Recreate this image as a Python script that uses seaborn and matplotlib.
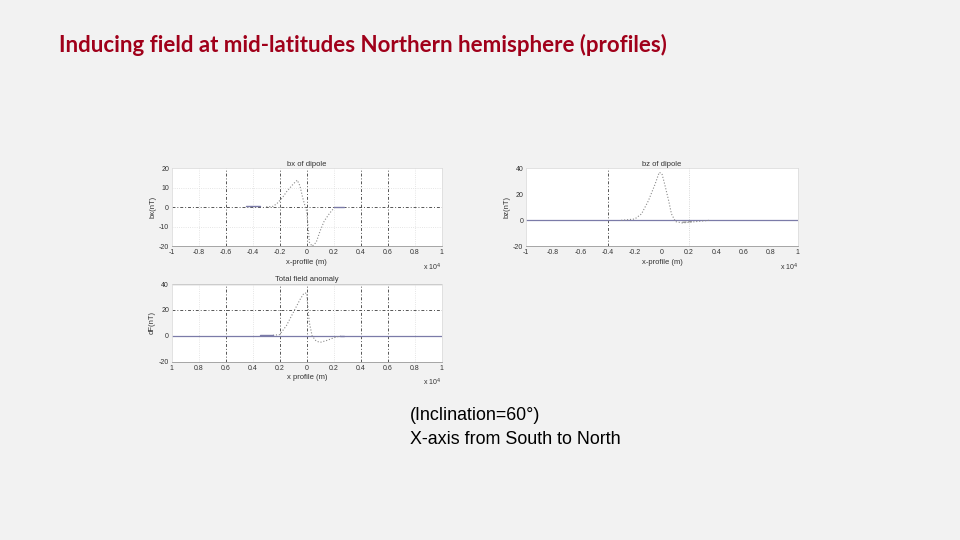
import matplotlib
matplotlib.use("Agg")
import matplotlib.pyplot as plt
import seaborn as sns
import numpy as np

sns.set_style("white")
plt.rcParams['font.family'] = ['Liberation Sans', 'DejaVu Sans']

# bx of dipole (x in units of 1e4 m)
bx_x = [-0.30, -0.25, -0.22, -0.18, -0.15, -0.10, -0.07, -0.05, -0.03, -0.01, 0.00, 0.01, 0.02, 0.04, 0.07, 0.10, 0.13, 0.17, 0.20]
bx_y = [0.3, 0.5, 2.0, 5.0, 8.0, 12.0, 14.0, 11.0, 5.0, 0.0, -2.0, -10.0, -18.0, -20.0, -18.0, -12.0, -7.0, -3.0, -0.5]
bx_flat_x = [-0.45, -0.35]
bx_flat_y = [0.5, 0.5]
bx_flat2_x = [0.20, 0.28]
bx_flat2_y = [0.0, 0.0]

# bz of dipole
bz_x = [-0.30, -0.20, -0.15, -0.10, -0.05, -0.02, 0.00, 0.02, 0.05, 0.07, 0.10, 0.15, 0.20, 0.30, 0.35]
bz_y = [0.0, 1.0, 5.0, 15.0, 28.0, 37.0, 36.0, 28.0, 15.0, 5.0, -1.0, -2.0, -1.5, -0.5, 0.0]
bz_flat_x = [0.15, 0.22]
bz_flat_y = [-1.5, -1.0]

# total field anomaly
dt_x = [-0.25, -0.20, -0.15, -0.10, -0.05, -0.02, 0.00, 0.01, 0.02, 0.04, 0.07, 0.10, 0.15, 0.20, 0.25]
dt_y = [0.5, 1.0, 8.0, 18.0, 28.0, 33.0, 33.0, 20.0, 10.0, 0.0, -4.0, -5.0, -3.5, -1.5, 0.0]
dt_flat_x = [-0.35, -0.25]
dt_flat_y = [0.5, 0.5]
dt_flat2_x = [0.25, 0.28]
dt_flat2_y = [0.0, 0.0]

xticks = [-1, -0.8, -0.6, -0.4, -0.2, 0, 0.2, 0.4, 0.6, 0.8, 1]
xlabels_signed = ['-1', '-0.8', '-0.6', '-0.4', '-0.2', '0', '0.2', '0.4', '0.6', '0.8', '1']
xlabels_plain = ['1', '0.8', '0.6', '0.4', '0.2', '0', '0.2', '0.4', '0.6', '0.8', '1']

bg = '#f2f2f2'
curve_col = '#8a8a8a'
blue = '#7b7ba8'
grid_col = '#555555'

fig = plt.figure(figsize=(9.6, 5.4), dpi=100)
fig.patch.set_facecolor(bg)

ax1 = fig.add_axes([0.179, 0.544, 0.281, 0.144])
ax2 = fig.add_axes([0.548, 0.544, 0.283, 0.144])
ax3 = fig.add_axes([0.179, 0.330, 0.281, 0.144])


def style_axes(ax, title, ylabel, yticks, xlabels, xlab):
    ax.set_facecolor('white')
    ax.set_xlim(-1, 1)
    ax.set_ylim(yticks[0], yticks[-1])
    ax.set_xticks(xticks)
    ax.set_xticklabels(xlabels)
    ax.set_yticks(yticks)
    ax.set_yticklabels([str(v) for v in yticks])
    ax.tick_params(labelsize=5, length=0, pad=2, colors='#333333')
    for s in ax.spines.values():
        s.set_color('#dddddd')
        s.set_linewidth(0.6)
    ax.spines['bottom'].set_color('#999999')
    ax.set_title(title, fontsize=5.5, pad=2, color='#333333')
    ax.set_ylabel(ylabel, fontsize=5.5, labelpad=2, color='#333333')
    ax.set_xlabel(xlab, fontsize=5.5, labelpad=2, color='#333333')
    ax.text(1.0, -0.27, r'x 10$^4$', transform=ax.transAxes, fontsize=5,
            ha='right', va='center', color='#333333')


# panel 1: bx
style_axes(ax1, 'bx of dipole', 'bx(nT)', [-20, -10, 0, 10, 20], xlabels_signed, 'x-profile (m)')
for xv in [-0.6, -0.2, 0, 0.4, 0.6]:
    ax1.axvline(xv, color=grid_col, ls=(0, (3, 2, 1, 2)), lw=0.7)
for xv in [-0.8, -0.4, 0.2, 0.8]:
    ax1.axvline(xv, color='#dddddd', ls=':', lw=0.6)
ax1.axhline(0, color=grid_col, ls=(0, (3, 2, 1, 2)), lw=0.7)
for yv in [-10, 10]:
    ax1.axhline(yv, color='#dddddd', ls=':', lw=0.6)
sns.lineplot(x=bx_x, y=bx_y, ax=ax1, color=curve_col, lw=0.8, ls=':')
sns.lineplot(x=bx_flat_x, y=bx_flat_y, ax=ax1, color=blue, lw=1.0)
sns.lineplot(x=bx_flat2_x, y=bx_flat2_y, ax=ax1, color=blue, lw=1.0)

# panel 2: bz
style_axes(ax2, 'bz of dipole', 'bz(nT)', [-20, 0, 20, 40], xlabels_signed, 'x-profile (m)')
ax2.axvline(-0.4, color=grid_col, ls=(0, (3, 2, 1, 2)), lw=0.7)
ax2.axvline(0.2, color='#cccccc', ls=':', lw=0.6)
ax2.axhline(0, color=blue, lw=0.9)
sns.lineplot(x=bz_x, y=bz_y, ax=ax2, color=curve_col, lw=0.8, ls=':')
sns.lineplot(x=bz_flat_x, y=bz_flat_y, ax=ax2, color=curve_col, lw=0.8, ls='--')

# panel 3: total field anomaly
style_axes(ax3, 'Total field anomaly', 'dF(nT)', [-20, 0, 20, 40], xlabels_plain, 'x profile (m)')
for xv in [-0.6, -0.2, 0, 0.4, 0.6]:
    ax3.axvline(xv, color=grid_col, ls=(0, (3, 2, 1, 2)), lw=0.7)
for xv in [-0.8, -0.4, 0.2, 0.8]:
    ax3.axvline(xv, color='#dddddd', ls=':', lw=0.6)
ax3.axhline(20, color=grid_col, ls=(0, (3, 2, 1, 2)), lw=0.7)
ax3.axhline(40, color='#777777', lw=0.9)
ax3.axhline(0, color=blue, lw=0.9)
sns.lineplot(x=dt_x, y=dt_y, ax=ax3, color=curve_col, lw=0.8, ls=':')
sns.lineplot(x=dt_flat_x, y=dt_flat_y, ax=ax3, color=blue, lw=1.0)
sns.lineplot(x=dt_flat2_x, y=dt_flat2_y, ax=ax3, color=blue, lw=1.0)

# slide text
fig.text(59 / 960, 1 - 45 / 540, 'Inducing field at mid-latitudes Northern hemisphere (profiles)',
         fontsize=16, fontweight='bold', color='#a0001a', family=['Lato', 'DejaVu Sans'],
         ha='left', va='center')
fig.text(410 / 960, 1 - 415 / 540, '(Inclination=60°)', fontsize=12.9, color='black',
         ha='left', va='center')
fig.text(410 / 960, 1 - 440 / 540, 'X-axis from South to North', fontsize=12.9, color='black',
         ha='left', va='center')

fig.savefig('out.png', dpi=100, facecolor=bg)
